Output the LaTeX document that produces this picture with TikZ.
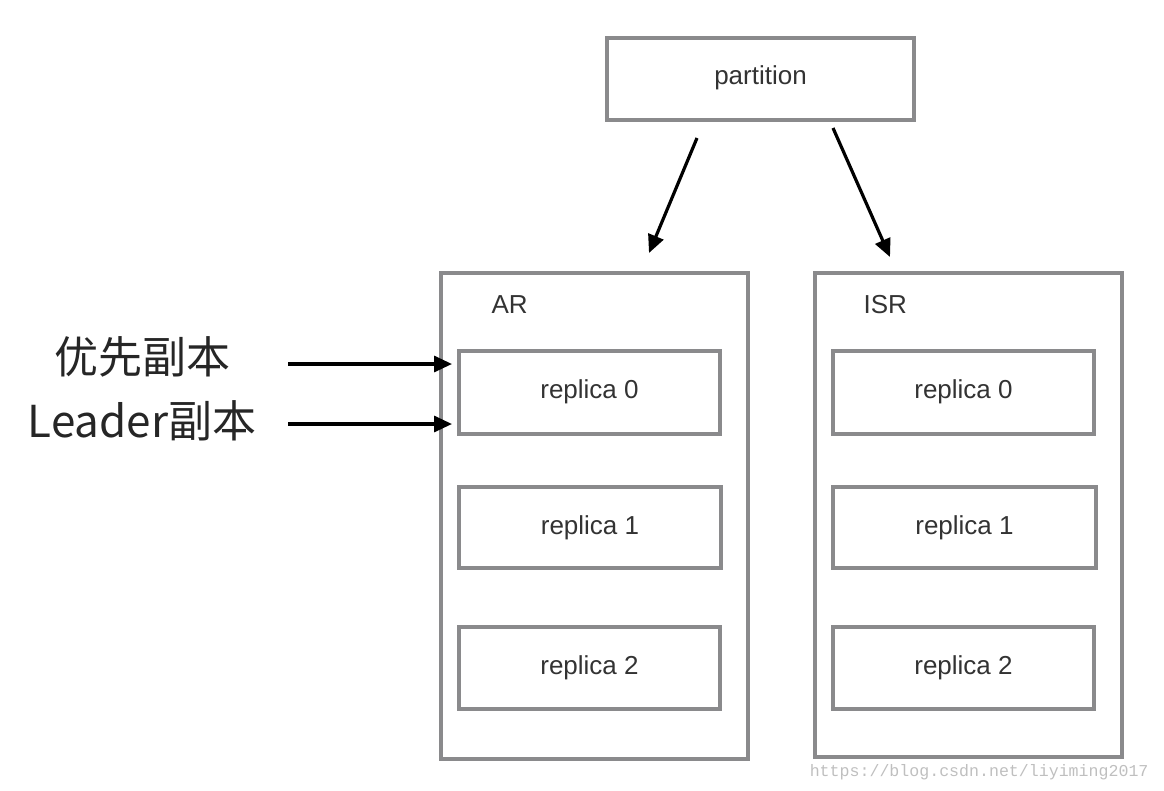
\documentclass[tikz,border=0pt]{standalone}
\usepackage{fontspec}
\setmainfont{Liberation Sans}
\newfontfamily\cjk{Noto Sans CJK SC}
\newfontfamily\wmfont{Liberation Mono}
\usetikzlibrary{arrows.meta}
\definecolor{boxgray}{HTML}{8A8A8C}
\definecolor{txtgray}{HTML}{333333}
\begin{document}
\begin{tikzpicture}[x=1pt,y=-1pt,
  box/.style={draw=boxgray, line width=3.2pt, fill=white},
  lbl/.style={font=\fontsize{26}{30}\selectfont, text=txtgray},
  arr/.style={draw=black, line width=3.2pt, -{Triangle[length=18pt,width=16pt]}}]
\useasboundingbox (0,0) rectangle (1164,790);
% partition
\draw[box] (607,38) rectangle (914,120);
\node[lbl] (part) at (760.5,78) {partition};
% AR
\draw[box] (441,273) rectangle (748,759);
\node[lbl,anchor=west] (arlbl) at (488,305) {AR};
\draw[box] (459,351) rectangle (720,434);
\node[lbl] (ar0) at (589.5,392) {replica 0};
\draw[box] (459,487) rectangle (721,568);
\node[lbl] (ar1) at (590,528) {replica 1};
\draw[box] (459,627) rectangle (720,709);
\node[lbl] (ar2) at (589.5,668) {replica 2};
% ISR
\draw[box] (815,273) rectangle (1122,757);
\node[lbl,anchor=west] (isrlbl) at (860,305) {ISR};
\draw[box] (833,351) rectangle (1094,434);
\node[lbl] (isr0) at (963.5,392) {replica 0};
\draw[box] (833,487) rectangle (1096,568);
\node[lbl] (isr1) at (964.5,528) {replica 1};
\draw[box] (833,627) rectangle (1094,709);
\node[lbl] (isr2) at (963.5,668) {replica 2};
% arrows from partition
\coordinate (s1) at (697,138);
\coordinate (e1) at (649,253);
\coordinate (s2) at (833,128);
\coordinate (e2) at (890,257);
\draw[arr] (s1) -- (e1);
\draw[arr] (s2) -- (e2);
% left labels
\node[font=\cjk\fontsize{44}{48}\selectfont, text=black!85] (pref) at (142,357) {优先副本};
\node[font=\cjk\fontsize{44}{48}\selectfont, text=black!85] (lead) at (142,421) {Leader副本};
\coordinate (l1s) at (288,364);
\coordinate (l1e) at (452,364);
\coordinate (l2s) at (288,424);
\coordinate (l2e) at (452,424);
\draw[arr] (l1s) -- (l1e);
\draw[arr] (l2s) -- (l2e);
% watermark
\node[font=\wmfont\fontsize{16.6}{20}\selectfont, text=black!25, anchor=east] (wm) at (1152,772) {https://blog.csdn.net/liyiming2017};
\end{tikzpicture}
\end{document}
